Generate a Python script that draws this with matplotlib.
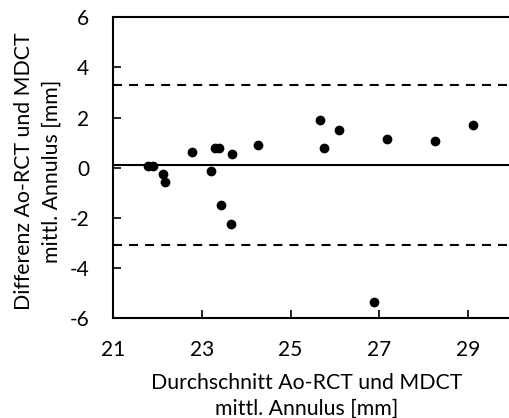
import matplotlib.pyplot as plt
import numpy as np

plt.rcParams['font.family'] = ['Lato', 'DejaVu Sans']
plt.rcParams['axes.unicode_minus'] = False

# Mittelwert und Differenz je Patient (mm)
mittel = [21.78, 21.90, 22.12, 22.18, 22.79, 23.20, 23.29, 23.40, 23.43, 23.68,
          23.67, 24.26, 25.66, 25.75, 26.10, 26.88, 27.17, 28.25, 29.10]
differenz = [0.08, 0.08, -0.26, -0.56, 0.63, -0.14, 0.80, 0.80, -1.48, 0.54,
             -2.23, 0.89, 1.89, 0.80, 1.49, -5.37, 1.13, 1.08, 1.69]

# Bias und Limits of Agreement
bias = 0.10
loa_oben = 3.31
loa_unten = -3.09

fig = plt.figure(figsize=(5.10, 4.18), dpi=100)
ax = fig.add_axes([0.2214, 0.2392, 0.7835, 0.7194])

ax.axhline(bias, color='black', lw=1.5, zorder=1)
ax.axhline(loa_oben, color='black', lw=1.5, dashes=(4.3, 3.4), zorder=1)
ax.axhline(loa_unten, color='black', lw=1.5, dashes=(4.3, 3.4), zorder=1)

ax.scatter(mittel, differenz, s=36, color='black', zorder=3)

ax.set_xlim(21, 30)
ax.set_ylim(-6, 6)
ax.set_xticks([21, 23, 25, 27, 29])
ax.set_yticks(np.arange(-6, 7, 2))
ax.tick_params(direction='in', length=6, width=1.2, labelsize=15)
ax.tick_params(axis='x', pad=16)
ax.tick_params(axis='y', pad=17)

for s in ['left', 'bottom', 'top']:
    ax.spines[s].set_linewidth(1.5)
ax.spines['right'].set_visible(False)

fig.text(0.601, 0.053, 'Durchschnitt Ao-RCT und MDCT\nmittl. Annulus [mm]',
         fontsize=15.3, ha='center', va='center', linespacing=1.4)
fig.text(0.0745, 0.59, 'Differenz Ao-RCT und MDCT\nmittl. Annulus [mm]',
         fontsize=15.3, ha='center', va='center', rotation=90, linespacing=1.5)

fig.savefig('out.png', dpi=100)
